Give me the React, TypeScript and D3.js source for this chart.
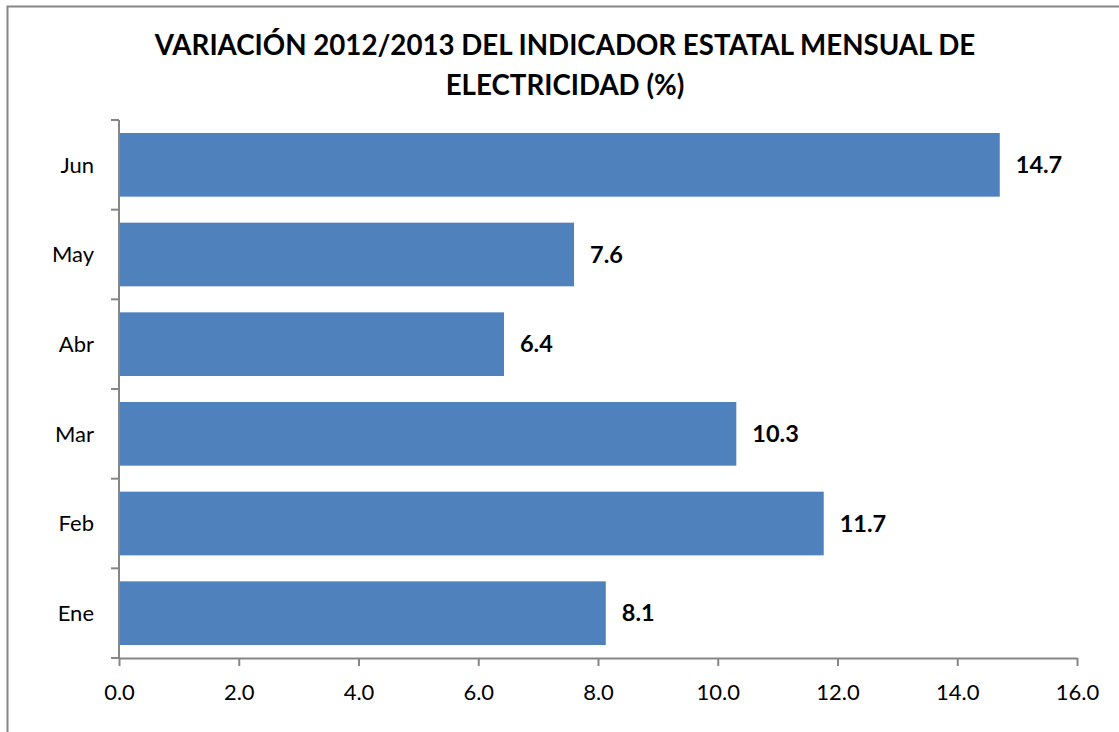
import { useEffect, useRef } from 'react';
import * as d3 from 'd3';

const months = ['Ene', 'Feb', 'Mar', 'Abr', 'May', 'Jun'];
// bar lengths; labels as printed on the chart
const values = [8.13, 11.77, 10.31, 6.43, 7.6, 14.71];
const valueLabels = ['8.1', '11.7', '10.3', '6.4', '7.6', '14.7'];
const xTicks = [0, 2, 4, 6, 8, 10, 12, 14, 16];
const titleLines = [
  'VARIACIÓN 2012/2013 DEL INDICADOR ESTATAL MENSUAL DE',
  'ELECTRICIDAD (%)',
];

const W = 1119;
const H = 732;
const FONT = 'Lato, "Open Sans", sans-serif';
const AXIS = '#868686';

export default function App() {
  const svgRef = useRef<SVGSVGElement>(null);

  useEffect(() => {
    if (!svgRef.current) return;
    const svg = d3.select(svgRef.current);
    svg.selectAll('*').remove();

    const margin = { top: 120, right: 42, bottom: 74, left: 119 };
    const width = W - margin.left - margin.right;
    const height = H - margin.top - margin.bottom;

    // chart frame
    svg.append('rect')
      .attr('x', 7.5)
      .attr('y', 6.5)
      .attr('width', W)
      .attr('height', H)
      .attr('fill', '#fff')
      .attr('stroke', AXIS)
      .attr('stroke-width', 2);

    const title = svg.append('text')
      .attr('text-anchor', 'middle')
      .attr('font-family', FONT)
      .attr('font-weight', 'bold')
      .attr('font-size', '27.7px')
      .attr('fill', '#000');
    titleLines.forEach((t, i) => {
      title.append('tspan')
        .attr('x', 565)
        .attr('y', 55 + i * 40)
        .text(t);
    });

    const g = svg.append('g')
      .attr('transform', `translate(${margin.left},${margin.top})`);

    const x = d3.scaleLinear().domain([0, 16]).range([0, width]);
    const data = months.map((m, i) => ({ month: m, value: values[i], label: valueLabels[i] }));
    const y = d3.scaleBand<string>()
      .domain(months.slice().reverse())
      .range([0, height])
      .paddingInner(0.29)
      .paddingOuter(0.145);

    // category boundaries on the y axis
    const step = height / months.length;
    const yBounds = d3.range(months.length + 1).map(i => i * step);
    g.selectAll('.ytick')
      .data(yBounds)
      .join('line')
      .attr('x1', -8)
      .attr('x2', 0)
      .attr('y1', d => d)
      .attr('y2', d => d)
      .attr('stroke', AXIS)
      .attr('stroke-width', 2);

    g.selectAll('.bar')
      .data(data)
      .join('rect')
      .attr('x', 0)
      .attr('y', d => y(d.month)!)
      .attr('width', d => x(d.value))
      .attr('height', y.bandwidth())
      .attr('fill', '#4F81BD');

    g.append('line')
      .attr('x1', 0)
      .attr('x2', 0)
      .attr('y1', 0)
      .attr('y2', height)
      .attr('stroke', AXIS)
      .attr('stroke-width', 2);

    g.selectAll('.ylabel')
      .data(months)
      .join('text')
      .attr('x', -25)
      .attr('y', d => y(d)! + y.bandwidth() / 2)
      .attr('dy', '0.35em')
      .attr('text-anchor', 'end')
      .attr('font-family', FONT)
      .attr('font-size', '22px')
      .attr('fill', '#000')
      .text(d => d);

    g.selectAll('.vlabel')
      .data(data)
      .join('text')
      .attr('x', d => x(d.value) + 16)
      .attr('y', d => y(d.month)! + y.bandwidth() / 2)
      .attr('dy', '0.35em')
      .attr('font-family', FONT)
      .attr('font-weight', 'bold')
      .attr('font-size', '23.5px')
      .attr('fill', '#000')
      .text(d => d.label);

    const xAxis = g.append('g')
      .attr('transform', `translate(0,${height})`)
      .call(d3.axisBottom(x).tickValues(xTicks).tickSize(8).tickSizeOuter(0).tickPadding(18).tickFormat(d3.format('.1f')));
    xAxis.select('.domain').attr('stroke', AXIS).attr('stroke-width', 2);
    xAxis.selectAll('.tick line').attr('stroke', AXIS).attr('stroke-width', 2);
    xAxis.selectAll('.tick text')
      .attr('font-family', FONT)
      .attr('font-size', '22px')
      .attr('fill', '#000');
  }, []);

  return (
    <div style={{ position: 'absolute', left: 0, top: 0, width: W, height: H, background: '#fff' }}>
      <svg ref={svgRef} width={W} height={H} style={{ display: 'block' }} />
    </div>
  );
}
